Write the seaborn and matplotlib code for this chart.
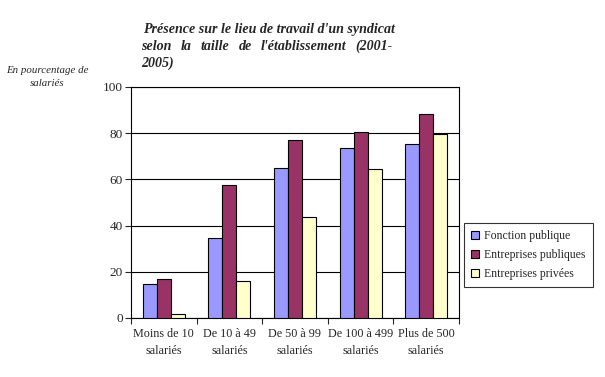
import pandas as pd
import matplotlib
matplotlib.use('Agg')
import matplotlib.pyplot as plt
import seaborn as sns

## Data.
categories = ['Moins de 10\nsalariés', 'De 10 à 49\nsalariés', 'De 50 à 99\nsalariés',
              'De 100 à 499\nsalariés', 'Plus de 500\nsalariés']
fonction_publique = [14.6, 34.5, 65.1, 73.7, 75.5]
entreprises_publiques = [16.7, 57.7, 77.2, 80.7, 88.2]
entreprises_privees = [1.9, 15.9, 43.9, 64.6, 79.5]
series = ['Fonction publique', 'Entreprises publiques', 'Entreprises privées']
colors = ['#9999FF', '#993366', '#FFFFCC']

df = pd.DataFrame({'taille': categories * 3,
                   'serie': [series[0]] * 5 + [series[1]] * 5 + [series[2]] * 5,
                   'valeur': fonction_publique + entreprises_publiques + entreprises_privees})

sns.set_style('white')
plt.rcParams['font.family'] = ['Liberation Serif', 'DejaVu Serif']

fig = plt.figure(figsize=(6.05, 3.77), dpi=100)
ax = fig.add_axes([131 / 605, 1 - 318 / 377, 328 / 605, 231 / 377])

sns.barplot(data=df, x='taille', y='valeur', hue='serie', palette=colors, saturation=1,
            width=0.64, edgecolor='black', linewidth=0.8, ax=ax, legend=False, zorder=3)

ax.set_ylim(0, 100)
ax.set_xlim(-0.5, 4.5)
ax.set_yticks([0, 20, 40, 60, 80, 100])
ax.yaxis.grid(True, color='black', linewidth=0.8, zorder=0)
ax.set_axisbelow(True)
for s in ax.spines.values():
    s.set_visible(True)
    s.set_color('black')
    s.set_linewidth(0.8)
ax.set_xlabel('')
ax.set_ylabel('')
ax.tick_params(axis='y', labelsize=9.5, length=4, width=0.8, direction='out', left=True, pad=2)
# x ticks at category boundaries, labels at centres
ax.set_xticks([-0.5, 0.5, 1.5, 2.5, 3.5, 4.5])
ax.set_xticklabels([])
ax.tick_params(axis='x', length=4, width=0.8, direction='out', bottom=True)
for i, lab in enumerate(categories):
    ax.text(i, -4.5, lab, ha='center', va='top', fontsize=8.7, linespacing=1.5)

# legend
handles = [plt.Rectangle((0, 0), 1, 1, facecolor=c, edgecolor='black', linewidth=0.8) for c in colors]
leg = fig.legend(handles, series, loc='upper left', bbox_to_anchor=(464 / 605, 1 - 223 / 377),
                 frameon=True, fancybox=False, fontsize=8.5, handlelength=0.7, handleheight=0.7,
                 handletextpad=0.4, borderpad=0.6, labelspacing=0.6, borderaxespad=0)
leg.get_frame().set_edgecolor('black')
leg.get_frame().set_linewidth(0.8)

# y label
fig.text(47 / 605, 1 - 77 / 377, 'En pourcentage de\nsalariés', ha='center', va='center',
         fontsize=7.8, style='italic', linespacing=1.5)

# title, justified like the original
tkw = dict(fontsize=10.1, weight='bold', style='italic', va='center')
left_px, right_px = 143, 393
fig.text(left_px / 605, 1 - 29 / 377, "Présence sur le lieu de travail d'un syndicat", ha='left', **tkw)
fig.text(141 / 605, 1 - 63 / 377, '2005)', ha='left', **tkw)
words = ['selon', 'la', 'taille', 'de', "l'établissement", '(2001-']
fig.canvas.draw()
r = fig.canvas.get_renderer()
widths = []
for w in words:
    t = fig.text(0, 0, w, **tkw)
    widths.append(t.get_window_extent(r).width)
    t.remove()
gap = ((right_px - 141) - sum(widths)) / (len(words) - 1)
x = 141
for w, wd in zip(words, widths):
    fig.text(x / 605, 1 - 46 / 377, w, ha='left', **tkw)
    x += wd + gap

fig.savefig('out.png', dpi=100)
